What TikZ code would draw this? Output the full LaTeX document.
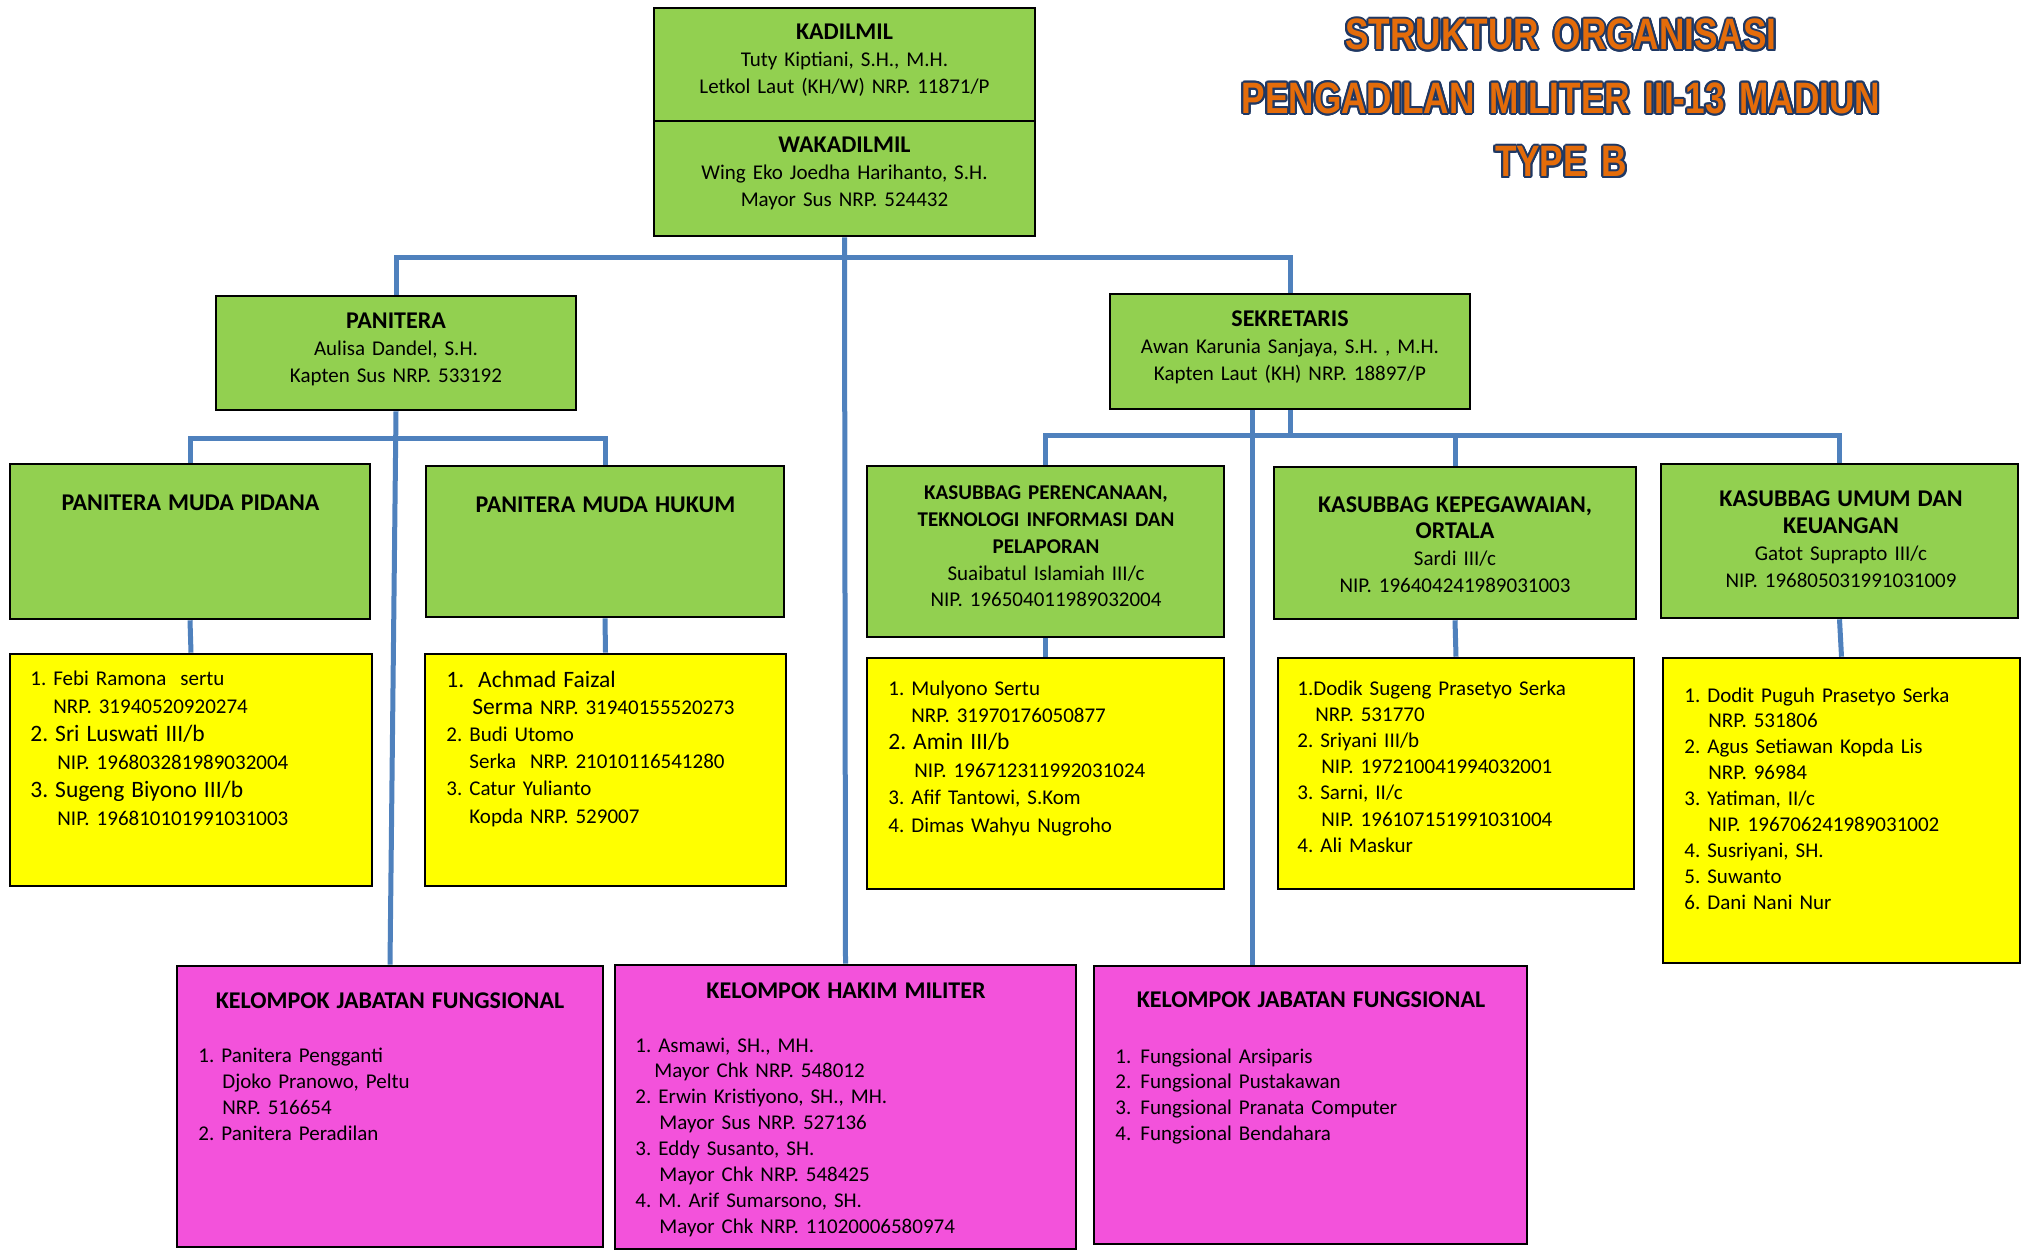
\documentclass[tikz,border=0pt]{standalone}
\usepackage{fontspec}
\setmainfont{Carlito}
\newfontfamily\judulfont{Liberation Sans}[FakeStretch=0.8]
\usepackage[copies]{contour}
\contourlength{1pt}
\usetikzlibrary{fit,backgrounds}
\frenchspacing

\definecolor{warnaHijau}{HTML}{92D050}
\definecolor{warnaKuning}{HTML}{FFFF00}
\definecolor{warnaPink}{HTML}{F352DB}
\definecolor{warnaGaris}{HTML}{4F81BD}
\definecolor{warnaJudul}{HTML}{E46C0A}
\definecolor{warnaTepi}{HTML}{1F3864}

\newcommand{\kepala}{\fontsize{12}{\baselineskip}\selectfont\bfseries}
\newcommand{\besar}{\fontsize{11.75}{\baselineskip}\selectfont}

\tikzset{
  kotak/.style={draw=black, line width=1.3pt, inner sep=0pt},
  kotakHijau/.style={kotak, fill=warnaHijau},
  kotakKuning/.style={kotak, fill=warnaKuning},
  kotakPink/.style={kotak, fill=warnaPink},
  garis/.style={draw=warnaGaris, line width=2.5pt},
  teks/.style={inner sep=0pt, font=\fontsize{10.5}{13.35}\selectfont},
  tengah/.style={teks, text width=220pt, align=center, anchor=base},
  daftar/.style={teks, text width=200pt, align=left, anchor=base west},
}

\begin{document}
\begin{tikzpicture}[x=0.5pt,y=-0.5pt]
    \useasboundingbox (0,0) rectangle (2024,1251);

    % judul
    \node[teks, text width=400pt, align=center, anchor=base, text=warnaJudul,
          font=\judulfont\bfseries\fontsize{22}{31.75}\selectfont] (judul) at (1561,50)
          {\contour{warnaTepi}{STRUKTUR ORGANISASI}\\
           \contour{warnaTepi}{PENGADILAN MILITER III-13 MADIUN}\\
           \contour{warnaTepi}{TYPE B}};

    % pimpinan
    \node[kotakHijau, fit={(654,8) (1035,121)}] (kadilmil) {};
    \node[kotakHijau, fit={(654,121) (1035,236)}] (wakadilmil) {};
    \node[tengah] (kadilmilTeks) at (844.5,40)
          {{\kepala KADILMIL}\\Tuty Kiptiani, S.H., M.H.\\Letkol Laut (KH/W) NRP. 11871/P};
    \node[tengah] (wakadilmilTeks) at (844.5,153)
          {{\kepala WAKADILMIL}\\Wing Eko Joedha Harihanto, S.H.\\Mayor Sus NRP. 524432};

    % panitera dan sekretaris
    \node[kotakHijau, fit={(216,296) (576,410)}] (panitera) {};
    \node[kotakHijau, fit={(1110,294) (1470,409)}] (sekretaris) {};
    \node[tengah] (paniteraTeks) at (396,329)
          {{\kepala PANITERA}\\Aulisa Dandel, S.H.\\Kapten Sus NRP. 533192};
    \node[tengah] (sekretarisTeks) at (1290,327)
          {{\kepala SEKRETARIS}\\Awan Karunia Sanjaya, S.H. , M.H.\\Kapten Laut (KH) NRP. 18897/P};

    % panitera muda
    \node[kotakHijau, fit={(10,464) (370,619)}] (pmp) {};
    \node[kotakHijau, fit={(426,466) (784,617)}] (pmh) {};
    \node[tengah] (pmpTeks) at (190.5,510) {\kepala PANITERA MUDA PIDANA};
    \node[tengah] (pmhTeks) at (605.5,512) {\kepala PANITERA MUDA HUKUM};

    % kasubbag
    \node[kotakHijau, fit={(867,466) (1224,637)}] (perencanaan) {};
    \node[kotakHijau, fit={(1274,467) (1636,619)}] (kepegawaian) {};
    \node[kotakHijau, fit={(1661,464) (2018,618)}] (umum) {};
    \node[tengah] (perencanaanTeks) at (1046,500)
          {{\bfseries KASUBBAG PERENCANAAN,\\TEKNOLOGI INFORMASI DAN\\PELAPORAN}\\
           Suaibatul Islamiah III/c\\NIP. 196504011989032004};
    \node[tengah] (kepegawaianTeks) at (1455,512)
          {{\kepala KASUBBAG KEPEGAWAIAN,\\ORTALA}\\Sardi III/c\\NIP. 196404241989031003};
    \node[tengah] (umumTeks) at (1841,507)
          {{\kepala KASUBBAG UMUM DAN\\KEUANGAN}\\Gatot Suprapto III/c\\NIP. 196805031991031009};

    % staf (kotak kuning)
    \node[kotakKuning, fit={(10,654) (372,886)}] (pmpIsi) {};
    \node[kotakKuning, fit={(425,654) (786,886)}] (pmhIsi) {};
    \node[kotakKuning, fit={(867,658) (1224,889)}] (perencanaanIsi) {};
    \node[kotakKuning, fit={(1278,658) (1634,889)}] (kepegawaianIsi) {};
    \node[kotakKuning, fit={(1663,658) (2020,963)}] (umumIsi) {};

    \node[daftar, font=\fontsize{10.5}{14}\selectfont] (pmpDaftar) at (30,685)
          {1. Febi Ramona\ \ sertu\\
           \hspace*{11.5pt}NRP. 31940520920274\\
           {\besar 2. Sri Luswati III/b}\\
           \hspace*{13.5pt}NIP. 196803281989032004\\
           {\besar 3. Sugeng Biyono III/b}\\
           \hspace*{13.5pt}NIP. 196810101991031003};
    \node[daftar, font=\fontsize{10.5}{13.6}\selectfont] (pmhDaftar) at (446,687)
          {{\besar 1.\ \ Achmad Faizal}\\
           \hspace*{13pt}{\besar Serma} NRP. 31940155520273\\
           2. Budi Utomo\\
           \hspace*{11.5pt}Serka\ \ NRP. 21010116541280\\
           3. Catur Yulianto\\
           \hspace*{11.5pt}Kopda NRP. 529007};
    \node[daftar, font=\fontsize{10.5}{13.7}\selectfont] (perencanaanDaftar) at (888,695)
          {1. Mulyono Sertu\\
           \hspace*{11.5pt}NRP. 31970176050877\\
           {\besar 2. Amin III/b}\\
           \hspace*{13pt}NIP. 196712311992031024\\
           3. Afif Tantowi, S.Kom\\
           4. Dimas Wahyu Nugroho};
    \node[daftar, font=\fontsize{10.5}{13.1}\selectfont] (kepegawaianDaftar) at (1297,695)
          {1.Dodik Sugeng Prasetyo Serka\\
           \hspace*{9pt}NRP. 531770\\
           2. Sriyani III/b\\
           \hspace*{12pt}NIP. 197210041994032001\\
           3. Sarni, II/c\\
           \hspace*{12pt}NIP. 196107151991031004\\
           4. Ali Maskur};
    \node[daftar, font=\fontsize{10.5}{12.95}\selectfont] (umumDaftar) at (1684,702)
          {1. Dodit Puguh Prasetyo Serka\\
           \hspace*{12pt}NRP. 531806\\
           2. Agus Setiawan Kopda Lis\\
           \hspace*{12pt}NRP. 96984\\
           3. Yatiman, II/c\\
           \hspace*{12pt}NIP. 196706241989031002\\
           4. Susriyani, SH.\\
           5. Suwanto\\
           6. Dani Nani Nur};

    % kelompok (kotak pink)
    \node[kotakPink, fit={(177,966) (603,1247)}] (kjfKiri) {};
    \node[kotakPink, fit={(615,965) (1076,1249)}] (hakim) {};
    \node[kotakPink, fit={(1094,966) (1527,1244)}] (kjfKanan) {};

    \node[tengah] (kjfKiriJudul) at (390,1008) {\kepala KELOMPOK JABATAN FUNGSIONAL};
    \node[tengah] (hakimJudul) at (846,998) {\kepala KELOMPOK HAKIM MILITER};
    \node[tengah] (kjfKananJudul) at (1311,1007) {\kepala KELOMPOK JABATAN FUNGSIONAL};

    \node[daftar, font=\fontsize{10.5}{13}\selectfont] (kjfKiriDaftar) at (198,1062)
          {1. Panitera Pengganti\\
           \hspace*{12pt}Djoko Pranowo, Peltu\\
           \hspace*{12pt}NRP. 516654\\
           2. Panitera Peradilan};
    \node[daftar, font=\fontsize{10.5}{12.95}\selectfont] (hakimDaftar) at (635,1052)
          {1. Asmawi, SH., MH.\\
           \hspace*{9.5pt}Mayor Chk NRP. 548012\\
           2. Erwin Kristiyono, SH., MH.\\
           \hspace*{12pt}Mayor Sus NRP. 527136\\
           3. Eddy Susanto, SH.\\
           \hspace*{12pt}Mayor Chk NRP. 548425\\
           4. M. Arif Sumarsono, SH.\\
           \hspace*{12pt}Mayor Chk NRP. 11020006580974};
    \node[daftar, font=\fontsize{10.5}{12.85}\selectfont] (kjfKananDaftar) at (1115,1063)
          {\makebox[12.5pt][l]{1.}Fungsional Arsiparis\\
           \makebox[12.5pt][l]{2.}Fungsional Pustakawan\\
           \makebox[12.5pt][l]{3.}Fungsional Pranata Computer\\
           \makebox[12.5pt][l]{4.}Fungsional Bendahara};

    % garis penghubung
    \coordinate (busAtas) at (0,258);
    \coordinate (busPanitera) at (0,439);
    \coordinate (busSekretaris) at (0,436);
    \coordinate (turunKanan) at (1252,0);

    \begin{scope}[on background layer]
        \fill[white] (0,0) rectangle (2024,1251);
        \draw[garis] (wakadilmil.south) -- (hakim.north);
        \draw[garis] (panitera.north) -- (panitera.north |- busAtas)
            -- (sekretaris.north |- busAtas) -- (sekretaris.north);
        \draw[garis] (panitera.south) -- (kjfKiri.north);
        \draw[garis] (pmp.north) -- (pmp.north |- busPanitera)
            -- (pmh.north |- busPanitera) -- (pmh.north);
        \draw[garis] (sekretaris.south) -- (sekretaris.south |- busSekretaris);
        \draw[garis] (turunKanan |- sekretaris.south) -- (turunKanan |- kjfKanan.north);
        \draw[garis] (perencanaan.north) -- (perencanaan.north |- busSekretaris)
            -- (umum.north |- busSekretaris) -- (umum.north);
        \draw[garis] (kepegawaian.north) -- (kepegawaian.north |- busSekretaris);

        \draw[garis] (pmp.south) -- (pmpIsi.north);
        \draw[garis] (pmh.south) -- (pmhIsi.north);
        \draw[garis] (perencanaan.south) -- (perencanaanIsi.north);
        \draw[garis] (kepegawaian.south) -- (kepegawaianIsi.north);
        \draw[garis] (umum.south) -- (umumIsi.north);
    \end{scope}
\end{tikzpicture}
\end{document}
